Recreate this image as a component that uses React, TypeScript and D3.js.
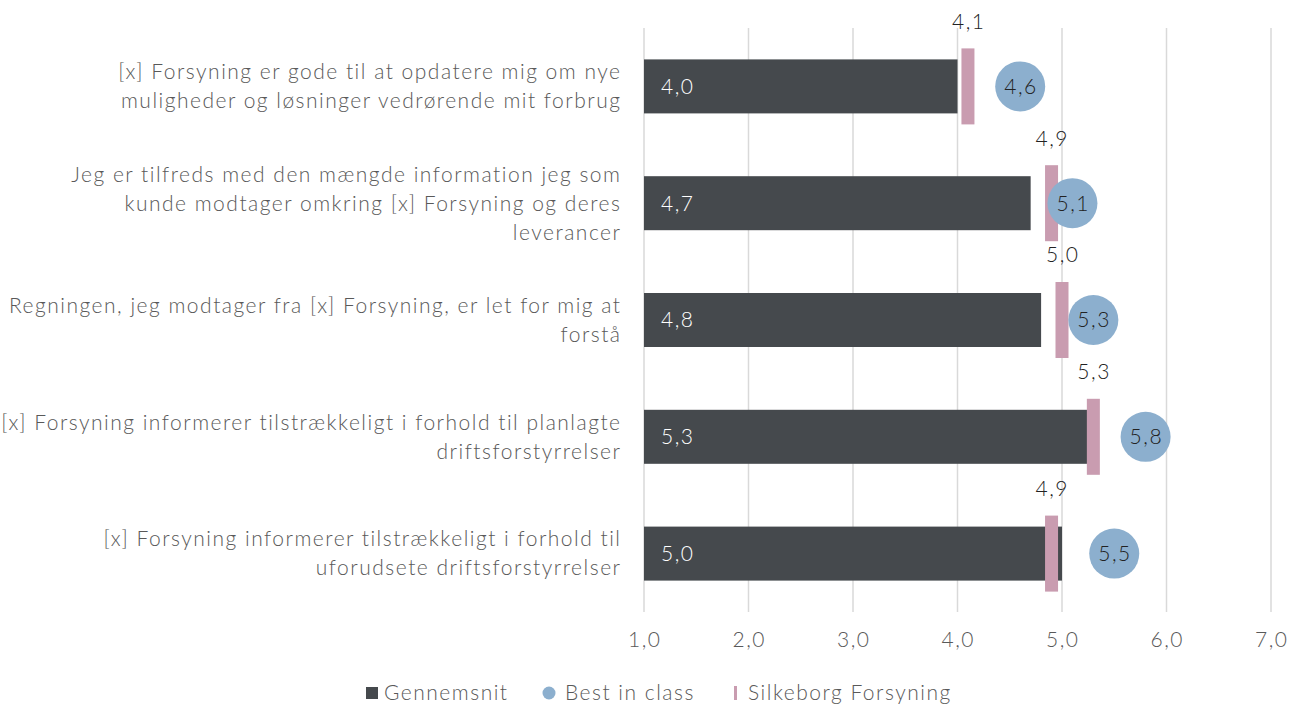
import React from "react";
import * as d3 from "d3";

const categories = [
  ["[x] Forsyning er gode til at opdatere mig om nye", "muligheder og løsninger vedrørende mit forbrug"],
  ["Jeg er tilfreds med den mængde information jeg som", "kunde modtager omkring [x] Forsyning og deres", "leverancer"],
  ["Regningen, jeg modtager fra [x] Forsyning, er let for mig at", "forstå"],
  ["[x] Forsyning informerer tilstrækkeligt i forhold til planlagte", "driftsforstyrrelser"],
  ["[x] Forsyning informerer tilstrækkeligt i forhold til", "uforudsete driftsforstyrrelser"],
];
const gennemsnit = [4.0, 4.7, 4.8, 5.3, 5.0];
const bestInClass = [4.6, 5.1, 5.3, 5.8, 5.5];
const silkeborg = [4.1, 4.9, 5.0, 5.3, 4.9];
const ticks = [1, 2, 3, 4, 5, 6, 7];
const legendItems = ["Gennemsnit", "Best in class", "Silkeborg Forsyning"];

const W = 1291, H = 708;
const FONT = "Lato, 'Open Sans', sans-serif";
const C_BAR = "#45494d", C_BEST = "#8cafce", C_SILK = "#c99cb0", C_TEXT = "#595959";
const fmt = (v: number) => v.toFixed(1).replace(".", ",");
const LS = 1.5;

export default function App() {
  const x = d3.scaleLinear().domain([1, 7]).range([644, 1271]);
  const y = d3.scaleBand<number>().domain(d3.range(categories.length)).range([28, 612]);
  const cy = (i: number) => (y(i) as number) + y.bandwidth() / 2;
  const barH = 54, markW = 13, markH = 76, r = 25, lh = 29;
  const ts = { fontSize: 21, fontWeight: 300, letterSpacing: LS } as const;

  return (
    <svg width={W} height={H} style={{ position: "absolute", left: 0, top: 0 }} fontFamily={FONT}>
      <rect width={W} height={H} fill="#fff" />
      {ticks.map((t) => (
        <g key={t}>
          <line x1={x(t)} x2={x(t)} y1={28} y2={612} stroke="#d9d9d9" strokeWidth={1.5} />
          <text x={x(t) + LS / 2} y={640} dy="0.35em" textAnchor="middle" {...ts} fill={C_TEXT}>{fmt(t)}</text>
        </g>
      ))}
      {categories.map((lines, i) => {
        const c = cy(i);
        const y0 = c - ((lines.length - 1) * lh) / 2;
        return (
          <g key={i}>
            {lines.map((l, k) => (
              <text key={k} x={620 + LS} y={y0 + k * lh} dy="0.35em" textAnchor="end" {...ts} fill={C_TEXT}>{l}</text>
            ))}
            <rect x={x(1)} y={c - barH / 2} width={x(gennemsnit[i]) - x(1)} height={barH} fill={C_BAR} />
            <text x={x(1) + 17} y={c} dy="0.35em" {...ts} fill="#fff">{fmt(gennemsnit[i])}</text>
            <rect x={x(silkeborg[i]) - markW / 2} y={c - markH / 2} width={markW} height={markH} fill={C_SILK} />
            <text x={x(silkeborg[i]) + LS / 2} y={c - markH / 2 - 27} dy="0.35em" textAnchor="middle" {...ts} fill="#222">{fmt(silkeborg[i])}</text>
            <circle cx={x(bestInClass[i])} cy={c} r={r} fill={C_BEST} />
            <text x={x(bestInClass[i]) + LS / 2} y={c} dy="0.35em" textAnchor="middle" {...ts} fill="#222">{fmt(bestInClass[i])}</text>
          </g>
        );
      })}
      <g>
        <rect x={366} y={687} width={12} height={12} fill={C_BAR} />
        <text x={384} y={693} dy="0.35em" {...ts} fill={C_TEXT}>{legendItems[0]}</text>
        <circle cx={549} cy={693} r={6.5} fill={C_BEST} />
        <text x={565} y={693} dy="0.35em" {...ts} fill={C_TEXT}>{legendItems[1]}</text>
        <rect x={734} y={686} width={3} height={14} fill={C_SILK} />
        <text x={748} y={693} dy="0.35em" {...ts} fill={C_TEXT}>{legendItems[2]}</text>
      </g>
    </svg>
  );
}
